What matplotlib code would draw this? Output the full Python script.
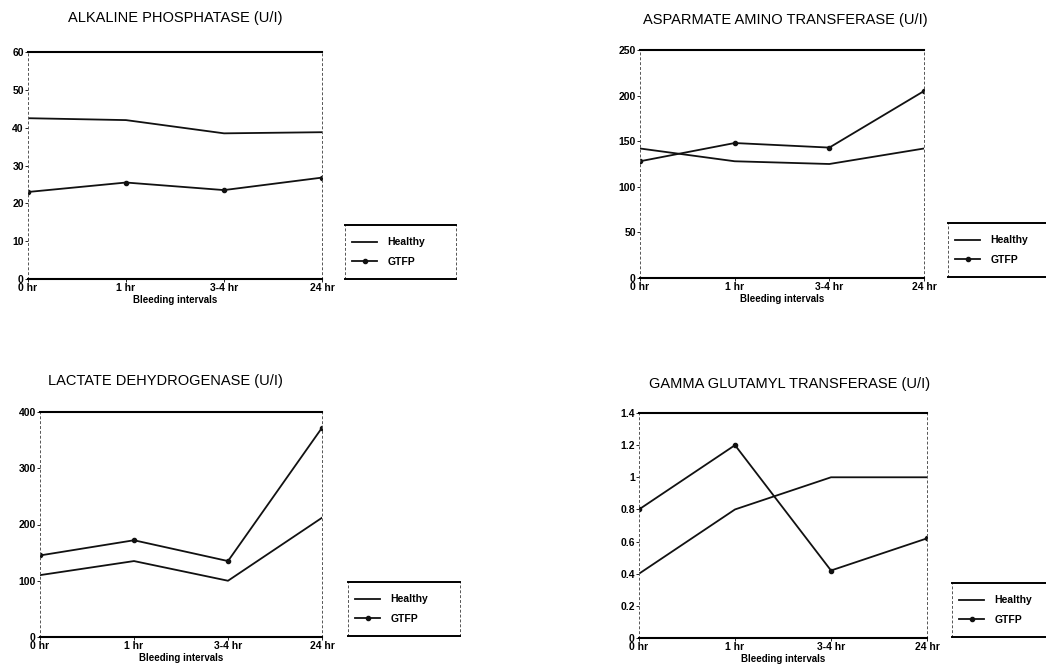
import matplotlib
matplotlib.use('Agg')
import matplotlib.pyplot as plt

plt.rcParams['font.family'] = ['Liberation Sans', 'DejaVu Sans']

intervalos = ['0 hr', '1 hr', '3-4 hr', '24 hr']

# valores
alp_healthy = [42.5, 42.0, 38.5, 38.8]
alp_gtfp = [23.0, 25.5, 23.5, 26.8]

ast_healthy = [142, 128, 125, 142]
ast_gtfp = [128, 148, 143, 205]

ldh_healthy = [110, 135, 100, 212]
ldh_gtfp = [145, 172, 135, 372]

ggt_healthy = [0.4, 0.8, 1.0, 1.0]
ggt_gtfp = [0.8, 1.2, 0.42, 0.62]

titulos = ['ALKALINE PHOSPHATASE (U/I)', 'ASPARMATE AMINO TRANSFERASE (U/I)',
           'LACTATE DEHYDROGENASE (U/I)', 'GAMMA GLUTAMYL TRANSFERASE (U/I)']
yticks = [[0, 10, 20, 30, 40, 50, 60],
          [0, 50, 100, 150, 200, 250],
          [0, 100, 200, 300, 400],
          [0, 0.2, 0.4, 0.6, 0.8, 1.0, 1.2, 1.4]]
ytick_labels = [None, None, None,
                ['0', '0.2', '0.4', '0.6', '0.8', '1', '1.2', '1.4']]
series = [(alp_healthy, alp_gtfp), (ast_healthy, ast_gtfp),
          (ldh_healthy, ldh_gtfp), (ggt_healthy, ggt_gtfp)]

W, H = 1046, 672


def caixa(x0, y0, x1, y1):
    # pixel -> fracao da figura
    return [x0 / W, 1 - y1 / H, (x1 - x0) / W, (y1 - y0) / H]


eixos_pos = [(28, 52, 322, 279), (640, 50, 924, 278),
             (40, 412, 322, 637), (639, 413, 927, 638)]
legenda_pos = [(345, 225, 456, 279), (948, 223, 1060, 277),
               (348, 582, 460, 636), (952, 583, 1060, 637)]
titulo_pos = [(175, 18), (785, 20), (165, 381), (790, 384)]

fig = plt.figure(figsize=(W / 100, H / 100), dpi=100)

for k in range(4):
    ax = fig.add_axes(caixa(*eixos_pos[k]))
    healthy, gtfp = series[k]
    x = list(range(len(intervalos)))
    l1, = ax.plot(x, healthy, color='#111111', lw=1.3, label='Healthy')
    l2, = ax.plot(x, gtfp, color='#111111', lw=1.3, marker='o', ms=3,
                  label='GTFP')

    ax.set_xlim(0, 3)
    ax.set_ylim(yticks[k][0], yticks[k][-1])
    ax.set_xticks(x)
    ax.set_xticklabels(intervalos)
    ax.set_yticks(yticks[k])
    if ytick_labels[k] is not None:
        ax.set_yticklabels(ytick_labels[k])
    ax.tick_params(axis='both', labelsize=7.5, length=2, width=0.6, pad=1)
    for t in ax.get_xticklabels() + ax.get_yticklabels():
        t.set_fontweight('bold')
    ax.set_xlabel('Bleeding intervals', fontsize=7, fontweight='bold',
                  labelpad=1)

    ax.spines['top'].set_linewidth(1.5)
    ax.spines['bottom'].set_linewidth(1.5)
    for lado in ['left', 'right']:
        ax.spines[lado].set_linestyle((0, (2, 3)))
        ax.spines[lado].set_linewidth(0.7)
        ax.spines[lado].set_color('#555555')

    fig.text(titulo_pos[k][0] / W, 1 - titulo_pos[k][1] / H, titulos[k],
             ha='center', va='center', fontsize=10.5, fontweight='medium')

    # caixa da legenda
    lg = fig.add_axes(caixa(*legenda_pos[k]))
    lg.set_xticks([])
    lg.set_yticks([])
    lg.patch.set_alpha(0)
    lg.spines['top'].set_linewidth(1.4)
    lg.spines['bottom'].set_linewidth(1.4)
    for lado in ['left', 'right']:
        lg.spines[lado].set_linestyle((0, (2, 3)))
        lg.spines[lado].set_linewidth(0.7)
        lg.spines[lado].set_color('#555555')
    leg = lg.legend(handles=[l1, l2], loc='center left', frameon=False,
                    handlelength=2.4, fontsize=7.5, labelspacing=0.9,
                    borderaxespad=0.3, handletextpad=1.0)
    for t in leg.get_texts():
        t.set_fontweight('bold')

fig.savefig('out.png', dpi=100)
